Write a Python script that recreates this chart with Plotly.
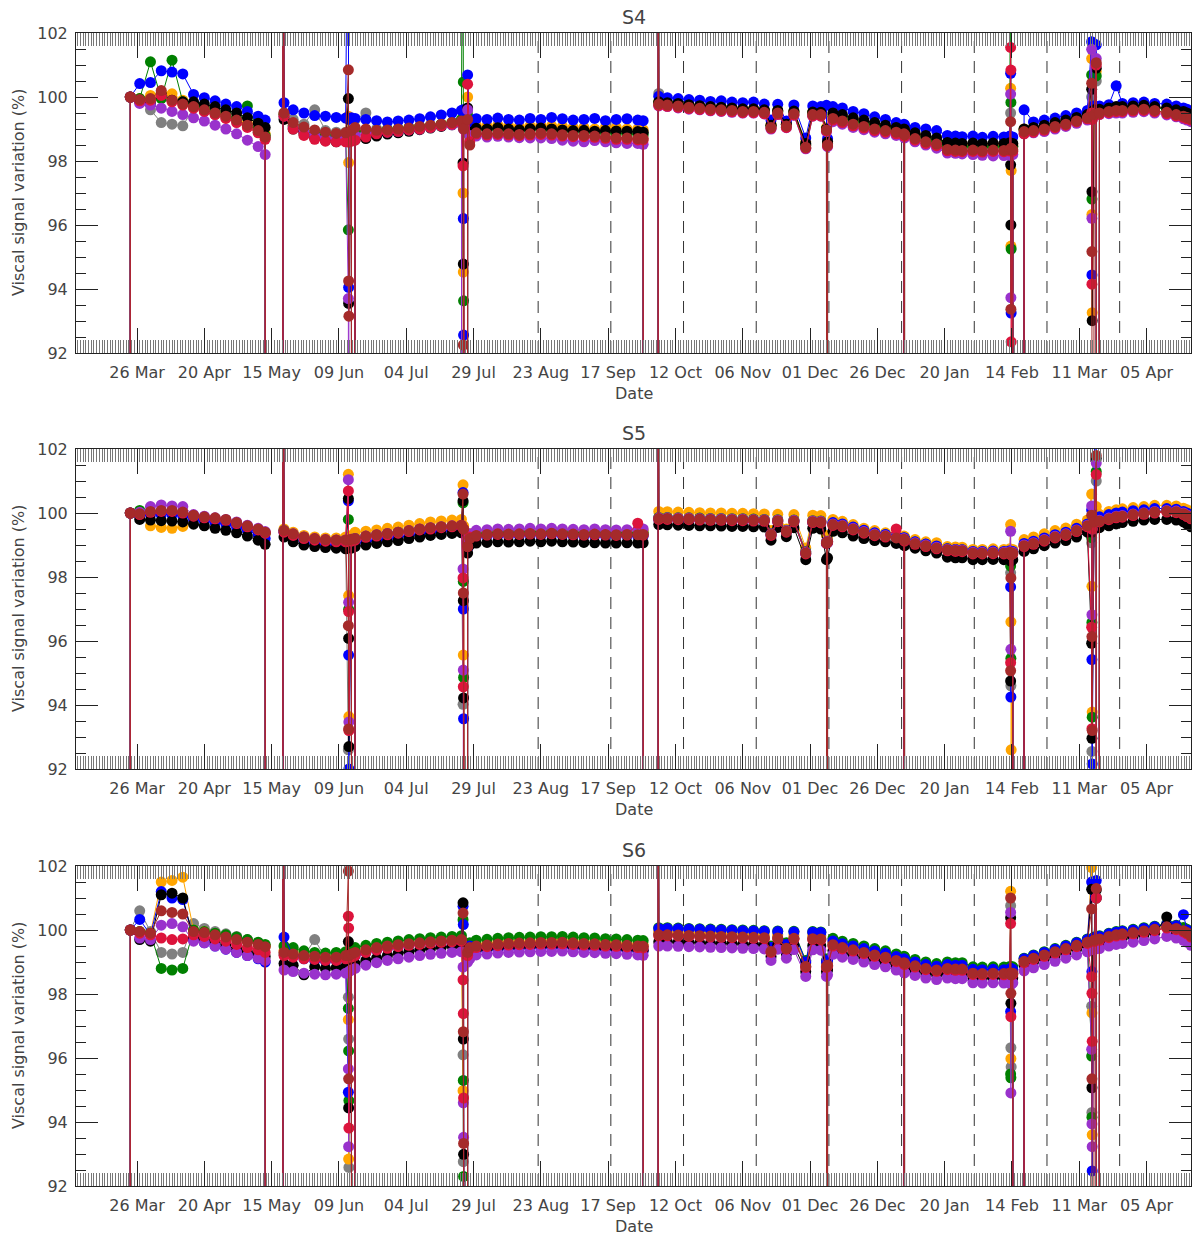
import pandas as pd
import plotly.graph_objects as go

# Days elapsed since 2016-03-26 for every VISCAL sample (0 = invalid low, 110 = invalid high)
START = "2016-03-26"
DAYS = (
    [-2.7, -2.5, 1, 5, 9, 13, 17, 21, 25, 29, 33, 37, 41, 45, 47.6, 47.9]
    + [54.1, 54.2]
    + [54.6, 58, 62, 66, 70, 74, 77.5, 78.5, 78.6, 78.7, 79.6, 80.5, 81, 85, 89, 93, 97,
       101, 105, 109, 113, 117, 120.5, 121.1, 121.2, 121.3, 122.6, 122.8, 123.6]
    + [126, 130, 134, 138, 142, 146, 150, 154, 158, 162, 166, 170, 174, 178, 182, 186, 188, 188.3]
    + [193.5, 193.6, 193.8, 197, 201, 205, 209, 213, 217, 221, 225, 229, 233, 235.5, 238,
       241.2, 244, 248.4, 251, 254, 256.1, 256.3, 256.5]
    + [258.5, 262, 266, 270, 274, 278, 282, 284.9, 285.0, 285.1, 289, 293, 297, 301, 304,
       306.5, 310.5, 314, 318, 322, 324.2, 324.5, 324.6, 324.7, 325.3, 325.5]
    + [329.3, 329.5, 333, 337, 341, 345, 349, 353, 354.6, 354.7, 354.8, 355.5, 356.3, 356.5,
       357.5, 361, 363.7, 366, 370, 374, 378, 382.5, 386, 388.7, 390, 391.5]
)

# Start of each 27-day cycle (days since 2016-03-26)
CYCLE_DAYS = [149, 176, 203, 230, 257, 284, 311, 338, 365]

# ---------------- S4 ----------------
S4_GRAY = (
    [0, 100.0, 99.85, 99.6, 99.2, 99.15, 99.1, 99.65, 99.55, 99.45, 99.35, 99.22, 99.08, 98.9, 98.72, 0]
    + [0, 110]
    + [99.5, 99.3, 99.15, 99.6, 98.95, 98.9, 98.9, 98.9, 98.9, 98.9, 98.95, 0, 99.3, 99.5, 99.0, 99.0, 99.0,
       99.05, 99.08, 99.12, 99.15, 99.2, 99.25, 99.2, 99.2, 99.2, 0, 99.5, 98.8]
    + [99.0, 98.98, 99.02, 98.98, 98.96, 98.99, 99.0, 98.98, 98.95, 98.93, 98.94, 98.91, 98.93, 98.92, 98.91, 98.9, 98.88, 0]
    + [0, 110, 100.11, 99.8, 99.77, 99.73, 99.7, 99.67, 99.65, 99.63, 99.6, 99.6, 99.57, 99.1, 99.55, 99.14,
       99.53, 98.5, 99.5, 99.5, 99.0, 0, 98.55]
    + [99.4, 99.35, 99.25, 99.18, 99.1, 99.03, 98.97, 98.93, 0, 98.9, 98.8, 98.7, 98.62, 98.48, 98.45, 98.44,
       98.45, 98.43, 98.45, 98.44, 98.46, 99.5, 98.5, 98.5, 98.45, 0]
    + [0, 98.98, 99.0, 99.06, 99.14, 99.22, 99.3, 99.4, 100.0, 99.4, 99.4, 99.52, 100.5, 0, 99.58, 99.62,
       99.64, 99.65, 99.67, 99.7, 99.66, 99.62, 99.55, 99.5, 99.45, 99.4]
)
S4_ORANGE = (
    [0, 100.0, 99.95, 100.05, 100.15, 100.1, 99.9, 99.75, 99.65, 99.55, 99.45, 99.32, 99.18, 99.0, 98.85, 0]
    + [0, 110]
    + [99.45, 99.1, 98.95, 98.85, 98.8, 98.75, 98.78, 99.4, 97.95, 98.8, 98.85, 0, 98.95, 98.95, 98.95, 98.98,
       99.0, 99.03, 99.07, 99.1, 99.15, 99.2, 99.25, 97.0, 94.53, 99.3, 0, 100.0, 98.8]
    + [99.12, 99.1, 99.12, 99.1, 99.08, 99.1, 99.12, 99.1, 99.08, 99.05, 99.05, 99.0, 99.05, 99.05, 99.0, 99.0, 98.98, 0]
    + [0, 110, 99.85, 99.82, 99.8, 99.76, 99.73, 99.7, 99.68, 99.66, 99.63, 99.63, 99.6, 99.15, 99.58, 99.18,
       99.56, 98.6, 99.53, 99.52, 99.05, 0, 98.62]
    + [99.45, 99.4, 99.3, 99.22, 99.15, 99.08, 99.02, 98.98, 0, 98.95, 98.85, 98.76, 98.68, 98.55, 98.52, 98.5,
       98.52, 98.5, 98.52, 98.5, 98.52, 100.27, 95.34, 97.7, 98.5, 0]
    + [0, 99.0, 99.02, 99.1, 99.18, 99.25, 99.33, 99.42, 101.2, 96.33, 93.26, 99.55, 100.8, 0, 99.6, 99.64,
       99.66, 99.68, 99.7, 99.72, 99.68, 99.64, 99.58, 99.52, 99.48, 99.42]
)
S4_GREEN = (
    [0, 100.0, 99.95, 101.1, 99.95, 101.15, 99.85, 99.75, 99.65, 99.55, 99.45, 99.35, 99.72, 99.0, 98.8, 0]
    + [0, 110]
    + [99.45, 99.1, 98.95, 98.85, 98.8, 98.75, 98.78, 95.85, 98.8, 98.85, 98.85, 0, 98.9, 98.95, 98.95, 98.98,
       99.0, 99.03, 99.07, 99.1, 99.15, 99.2, 99.3, 110, 100.47, 93.63, 0, 99.4, 98.8]
    + [99.0, 98.97, 99.0, 98.97, 98.95, 98.97, 99.0, 98.97, 98.94, 98.92, 98.92, 98.9, 98.88, 98.85, 98.85, 98.83, 98.82, 0]
    + [0, 110, 99.82, 99.8, 99.77, 99.73, 99.7, 99.67, 99.65, 99.63, 99.6, 99.6, 99.57, 99.1, 99.55, 99.14,
       99.53, 98.5, 99.5, 99.5, 99.0, 0, 98.55]
    + [99.4, 99.35, 99.25, 99.18, 99.1, 99.03, 98.97, 98.93, 0, 98.9, 98.8, 98.7, 98.62, 98.48, 98.45, 98.44,
       98.45, 98.43, 98.45, 98.44, 98.46, 110, 99.83, 95.25, 98.45, 0]
    + [0, 98.98, 99.0, 99.06, 99.14, 99.22, 99.3, 99.4, 100.69, 96.81, 99.5, 99.52, 100.66, 0, 99.58, 99.62,
       99.64, 99.65, 99.67, 99.7, 99.66, 99.62, 99.55, 99.5, 99.45, 99.4]
)
S4_BLUE = (
    [0, 100.0, 100.42, 100.45, 100.82, 100.78, 100.72, 100.08, 99.98, 99.88, 99.78, 99.7, 99.55, 99.4, 99.28, 0]
    + [0, 110]
    + [99.82, 99.6, 99.5, 99.42, 99.4, 99.36, 99.34, 110, 94.05, 99.3, 99.35, 0, 99.33, 99.3, 99.26, 99.22,
       99.25, 99.28, 99.32, 99.38, 99.44, 99.5, 99.58, 99.6, 96.2, 92.56, 0, 100.69, 99.1]
    + [99.32, 99.3, 99.34, 99.3, 99.28, 99.33, 99.3, 99.36, 99.32, 99.28, 99.3, 99.33, 99.26, 99.3, 99.32, 99.28, 99.26, 0]
    + [0, 110, 100.02, 99.98, 99.95, 99.92, 99.9, 99.86, 99.88, 99.84, 99.82, 99.84, 99.78, 99.28, 99.77, 99.25,
       99.75, 98.72, 99.72, 99.7, 99.74, 0, 98.7]
    + [99.7, 99.66, 99.55, 99.48, 99.38, 99.3, 99.2, 99.15, 0, 99.12, 99.05, 99.0, 98.95, 98.8, 98.78, 98.76,
       98.78, 98.74, 98.77, 98.75, 98.78, 100.74, 98.19, 93.25, 98.75, 0]
    + [0, 99.6, 99.22, 99.28, 99.34, 99.42, 99.5, 99.58, 101.73, 94.44, 99.7, 99.72, 101.63, 0, 99.72, 99.76,
       100.35, 99.8, 99.82, 99.84, 99.8, 99.78, 99.72, 99.66, 99.62, 99.55]
)
S4_BLACK = (
    [0, 100.0, 99.85, 99.8, 100.1, 99.9, 99.85, 99.85, 99.78, 99.7, 99.6, 99.5, 99.35, 99.18, 99.05, 0]
    + [0, 110]
    + [99.3, 99.0, 98.85, 98.72, 98.64, 98.6, 98.62, 99.95, 93.55, 98.6, 98.65, 0, 98.66, 98.7, 98.78, 98.84,
       98.88, 98.93, 98.98, 99.03, 99.08, 99.13, 99.18, 97.94, 94.78, 99.2, 0, 99.66, 98.9]
    + [99.02, 99.0, 99.04, 99.0, 98.98, 99.01, 99.03, 99.0, 98.97, 98.95, 98.96, 98.93, 98.95, 98.94, 98.93, 98.92, 98.9, 0]
    + [0, 110, 99.85, 99.82, 99.8, 99.76, 99.73, 99.7, 99.68, 99.66, 99.63, 99.63, 99.6, 99.12, 99.58, 99.15,
       99.56, 98.55, 99.53, 99.52, 99.0, 0, 98.6]
    + [99.5, 99.45, 99.35, 99.28, 99.2, 99.12, 99.05, 99.0, 0, 98.98, 98.88, 98.8, 98.72, 98.58, 98.56, 98.55,
       98.56, 98.54, 98.56, 98.55, 98.57, 97.88, 96.0, 98.5, 98.55, 0]
    + [0, 99.0, 99.05, 99.12, 99.2, 99.28, 99.36, 99.45, 100.24, 97.04, 93.01, 99.6, 100.9, 0, 99.62, 99.66,
       99.7, 99.7, 99.72, 99.74, 99.7, 99.66, 99.6, 99.55, 99.5, 99.45]
)
S4_PURPLE = (
    [0, 100.0, 99.8, 99.75, 99.65, 99.55, 99.45, 99.35, 99.25, 99.12, 99.0, 98.85, 98.65, 98.45, 98.2, 0]
    + [0, 110]
    + [99.4, 99.05, 98.9, 98.8, 98.72, 98.68, 98.7, 93.7, 0, 98.7, 98.75, 0, 98.8, 98.85, 98.88, 98.9,
       98.93, 98.97, 99.0, 99.05, 99.1, 99.13, 99.18, 0, 99.0, 99.1, 0, 99.6, 98.8]
    + [98.78, 98.75, 98.77, 98.75, 98.73, 98.72, 98.72, 98.7, 98.65, 98.62, 98.6, 98.64, 98.6, 98.57, 98.55, 98.55, 98.52, 0]
    + [0, 110, 99.72, 99.7, 99.66, 99.62, 99.6, 99.57, 99.55, 99.52, 99.5, 99.5, 99.47, 99.0, 99.45, 99.04,
       99.43, 98.38, 99.4, 99.4, 98.92, 0, 98.45]
    + [99.23, 99.15, 99.05, 98.98, 98.9, 98.85, 98.8, 98.75, 0, 98.72, 98.6, 98.5, 98.4, 98.25, 98.24, 98.22,
       98.2, 98.18, 98.16, 98.17, 98.18, 100.09, 93.73, 98.3, 98.2, 0]
    + [0, 98.85, 98.88, 98.92, 99.0, 99.08, 99.18, 99.28, 101.49, 96.21, 99.3, 99.4, 101.2, 0, 99.45, 99.48,
       99.5, 99.5, 99.52, 99.54, 99.5, 99.44, 99.38, 99.32, 99.28, 99.23]
)
S4_RED = (
    [0, 100.0, 99.88, 99.9, 100.05, 99.85, 99.75, 99.65, 99.55, 99.45, 99.33, 99.2, 99.05, 98.88, 98.68, 0]
    + [0, 110]
    + [99.4, 99.0, 98.8, 98.68, 98.62, 98.6, 98.6, 98.6, 98.6, 98.6, 98.62, 0, 98.65, 98.75, 98.85, 98.9,
       98.93, 98.97, 99.0, 99.05, 99.1, 99.15, 99.2, 97.85, 99.2, 99.2, 0, 100.4, 98.6]
    + [98.84, 98.81, 98.83, 98.81, 98.79, 98.81, 98.83, 98.81, 98.78, 98.76, 98.76, 98.74, 98.71, 98.68, 98.68, 98.66, 98.66, 0]
    + [0, 110, 99.74, 99.71, 99.68, 99.64, 99.61, 99.58, 99.56, 99.54, 99.51, 99.51, 99.48, 99.02, 99.46, 99.05,
       99.44, 98.4, 99.41, 99.41, 98.94, 0, 98.47]
    + [99.28, 99.2, 99.1, 99.03, 98.95, 98.9, 98.85, 98.8, 0, 98.77, 98.65, 98.55, 98.48, 98.32, 98.3, 98.29,
       98.3, 98.28, 98.3, 98.29, 98.31, 101.55, 100.84, 92.35, 98.3, 0]
    + [0, 98.85, 98.9, 98.96, 99.04, 99.12, 99.22, 99.32, 99.5, 94.15, 99.3, 99.42, 101.0, 0, 99.46, 99.51,
       99.54, 99.54, 99.56, 99.58, 99.54, 99.48, 99.41, 99.36, 99.32, 99.28]
)
S4_BROWN = (
    [0, 100.0, 99.92, 99.95, 100.2, 99.9, 99.78, 99.7, 99.6, 99.5, 99.4, 99.28, 99.12, 98.95, 98.75, 0]
    + [0, 110]
    + [99.5, 99.2, 99.06, 98.97, 98.9, 98.86, 98.88, 100.85, 94.25, 93.15, 98.95, 0, 99.05, 99.0, 98.96, 98.97,
       99.0, 99.03, 99.08, 99.12, 99.15, 99.2, 99.25, 99.2, 92.25, 99.0, 0, 99.3, 98.5]
    + [98.88, 98.85, 98.87, 98.85, 98.83, 98.85, 98.87, 98.85, 98.82, 98.8, 98.8, 98.78, 98.75, 98.72, 98.72, 98.7, 98.7, 0]
    + [0, 110, 99.78, 99.75, 99.72, 99.68, 99.65, 99.62, 99.6, 99.58, 99.55, 99.55, 99.52, 99.05, 99.5, 99.09,
       99.48, 98.43, 99.45, 99.45, 98.97, 0, 98.5]
    + [99.33, 99.25, 99.15, 99.08, 99.0, 98.95, 98.9, 98.85, 0, 98.82, 98.7, 98.6, 98.53, 98.36, 98.34, 98.33,
       98.34, 98.32, 98.34, 98.33, 98.35, 99.23, 93.37, 98.4, 98.35, 0]
    + [0, 98.92, 98.95, 99.0, 99.08, 99.15, 99.25, 99.35, 100.43, 95.17, 0, 99.45, 101.07, 0, 99.5, 99.55,
       99.58, 99.58, 99.6, 99.62, 99.58, 99.52, 99.45, 99.4, 99.36, 99.32]
)

# ---------------- S5 ----------------
S5_GRAY = (
    [0, 100.0, 99.95, 100.0, 100.02, 100.02, 99.98, 99.9, 99.85, 99.8, 99.75, 99.65, 99.55, 99.45, 99.35, 0]
    + [0, 110]
    + [99.45, 99.33, 99.24, 99.18, 99.15, 99.15, 99.15, 92.6, 99.1, 99.1, 99.17, 0, 99.2, 99.27, 99.31, 99.35,
       99.4, 99.44, 99.49, 99.53, 99.56, 99.58, 99.6, 94.02, 99.5, 99.5, 0, 99.0, 99.3]
    + [99.3, 99.33, 99.35, 99.34, 99.35, 99.36, 99.35, 99.37, 99.35, 99.34, 99.33, 99.34, 99.33, 99.32, 99.33, 99.32, 99.33, 0]
    + [0, 110, 99.83, 99.83, 99.82, 99.82, 99.81, 99.8, 99.8, 99.79, 99.79, 99.78, 99.77, 99.33, 99.76, 99.43,
       99.75, 98.75, 99.73, 99.72, 99.07, 0, 99.1]
    + [99.64, 99.6, 99.5, 99.4, 99.32, 99.28, 99.22, 99.18, 0, 99.15, 99.05, 98.98, 98.91, 98.85, 98.83, 98.82,
       98.75, 98.75, 98.76, 98.75, 98.77, 98.13, 94.6, 98.7, 98.75, 0]
    + [0, 98.98, 99.05, 99.15, 99.25, 99.33, 99.45, 99.6, 99.07, 92.55, 99.5, 99.72, 101.0, 0, 99.75, 99.82,
       99.88, 99.9, 99.95, 99.99, 100.03, 100.06, 100.04, 99.98, 99.92, 99.85]
)
S5_ORANGE = (
    [0, 100.0, 99.98, 99.6, 99.55, 99.52, 99.58, 99.9, 99.85, 99.82, 99.75, 99.67, 99.58, 99.48, 99.38, 0]
    + [0, 110]
    + [99.5, 99.4, 99.3, 99.25, 99.22, 99.22, 99.25, 101.21, 97.42, 93.64, 99.3, 0, 99.4, 99.43, 99.47, 99.52,
       99.56, 99.62, 99.67, 99.72, 99.75, 99.78, 99.8, 100.88, 95.56, 99.6, 0, 99.1, 99.35]
    + [99.43, 99.45, 99.47, 99.46, 99.47, 99.48, 99.47, 99.49, 99.47, 99.46, 99.45, 99.46, 99.45, 99.44, 99.45, 99.44, 99.45, 0]
    + [0, 110, 100.05, 100.04, 100.03, 100.02, 100.01, 100.0, 100.0, 99.99, 99.99, 99.98, 99.97, 99.45, 99.96, 99.5,
       99.95, 98.91, 99.93, 99.92, 99.3, 0, 99.2]
    + [99.8, 99.74, 99.64, 99.52, 99.45, 99.38, 99.32, 99.28, 0, 99.25, 99.17, 99.1, 99.07, 98.95, 98.94, 98.93,
       98.86, 98.86, 98.88, 98.86, 98.88, 99.64, 96.6, 92.6, 98.86, 0]
    + [0, 99.17, 99.25, 99.35, 99.45, 99.53, 99.65, 99.78, 100.59, 97.71, 93.78, 99.9, 100.2, 0, 99.96, 100.05,
       100.1, 100.13, 100.17, 100.2, 100.24, 100.24, 100.22, 100.15, 100.1, 100.06]
)
S5_GREEN = (
    [0, 100.0, 100.08, 100.02, 100.05, 100.05, 100.0, 99.9, 99.85, 99.8, 99.75, 99.67, 99.57, 99.47, 99.37, 0]
    + [0, 110]
    + [99.45, 99.33, 99.24, 99.18, 99.15, 99.15, 99.15, 99.8, 96.99, 99.1, 99.17, 0, 99.2, 99.27, 99.31, 99.35,
       99.4, 99.44, 99.49, 99.53, 99.56, 99.58, 99.6, 100.32, 97.86, 94.86, 0, 99.1, 99.3]
    + [99.35, 99.38, 99.4, 99.39, 99.4, 99.41, 99.4, 99.42, 99.4, 99.39, 99.38, 99.39, 99.38, 99.37, 99.38, 99.37, 99.38, 0]
    + [0, 110, 99.86, 99.86, 99.85, 99.85, 99.84, 99.83, 99.83, 99.82, 99.82, 99.81, 99.8, 99.36, 99.79, 99.46,
       99.78, 98.8, 99.76, 99.75, 99.1, 0, 99.12]
    + [99.68, 99.64, 99.54, 99.44, 99.36, 99.32, 99.26, 99.22, 0, 99.19, 99.09, 99.02, 98.95, 98.88, 98.86, 98.85,
       98.78, 98.78, 98.79, 98.78, 98.8, 98.34, 95.46, 98.7, 98.78, 0]
    + [0, 99.0, 99.08, 99.18, 99.28, 99.36, 99.48, 99.63, 99.23, 96.58, 93.62, 99.75, 101.3, 0, 99.78, 99.85,
       99.9, 99.93, 99.97, 100.01, 100.05, 100.08, 100.06, 100.0, 99.94, 99.87]
)
S5_BLUE = (
    [0, 100.0, 99.9, 99.95, 99.95, 99.95, 99.9, 99.8, 99.75, 99.7, 99.65, 99.55, 99.45, 99.33, 99.2, 0]
    + [0, 110]
    + [99.4, 99.2, 99.1, 99.03, 99.0, 98.98, 98.98, 100.38, 95.56, 92.0, 99.0, 0, 99.05, 99.1, 99.15, 99.2,
       99.25, 99.3, 99.35, 99.4, 99.43, 99.46, 99.5, 100.64, 97.0, 93.57, 0, 98.9, 99.2]
    + [99.25, 99.28, 99.3, 99.29, 99.3, 99.31, 99.3, 99.32, 99.3, 99.29, 99.28, 99.29, 99.28, 99.27, 99.28, 99.27, 99.28, 0]
    + [0, 110, 99.8, 99.8, 99.79, 99.79, 99.78, 99.77, 99.77, 99.76, 99.76, 99.75, 99.74, 99.3, 99.73, 99.4,
       99.72, 98.72, 99.7, 99.69, 99.05, 0, 99.08]
    + [99.7, 99.66, 99.56, 99.46, 99.38, 99.33, 99.27, 99.23, 0, 99.2, 99.1, 99.03, 98.97, 98.88, 98.86, 98.85,
       98.8, 98.8, 98.81, 98.8, 98.82, 97.69, 94.25, 98.7, 98.8, 0]
    + [0, 99.05, 99.12, 99.22, 99.32, 99.4, 99.52, 99.66, 100.09, 95.42, 92.16, 99.85, 110, 0, 99.88, 99.95,
       100.0, 100.03, 100.07, 100.1, 100.14, 100.14, 100.12, 100.05, 100.0, 99.95]
)
S5_BLACK = (
    [0, 100.0, 99.8, 99.78, 99.76, 99.75, 99.72, 99.65, 99.6, 99.52, 99.46, 99.38, 99.28, 99.15, 99.02, 0]
    + [0, 110]
    + [99.25, 99.1, 99.0, 98.95, 98.92, 98.9, 98.88, 100.45, 96.08, 92.7, 98.9, 0, 98.95, 99.0, 99.05, 99.1,
       99.14, 99.2, 99.25, 99.3, 99.33, 99.36, 99.38, 100.38, 97.26, 94.22, 0, 98.75, 99.0]
    + [99.06, 99.08, 99.1, 99.09, 99.1, 99.12, 99.1, 99.12, 99.1, 99.09, 99.08, 99.07, 99.06, 99.06, 99.07, 99.06, 99.07, 0]
    + [0, 110, 99.64, 99.63, 99.62, 99.61, 99.6, 99.6, 99.59, 99.58, 99.58, 99.57, 99.56, 99.15, 99.55, 99.26,
       99.54, 98.54, 99.52, 99.5, 98.54, 0, 98.6]
    + [99.43, 99.38, 99.28, 99.2, 99.14, 99.1, 99.05, 99.0, 0, 98.98, 98.9, 98.82, 98.75, 98.62, 98.6, 98.6,
       98.54, 98.54, 98.55, 98.54, 98.55, 94.75, 98.5, 98.5, 98.54, 0]
    + [0, 98.8, 98.88, 98.98, 99.06, 99.14, 99.25, 99.4, 95.93, 92.96, 99.4, 99.52, 101.7, 0, 99.54, 99.6,
       99.66, 99.7, 99.74, 99.78, 99.8, 99.8, 99.78, 99.72, 99.65, 99.57]
)
S5_PURPLE = (
    [0, 100.0, 100.02, 100.2, 100.25, 100.22, 100.2, 99.95, 99.9, 99.85, 99.8, 99.72, 99.62, 99.52, 99.42, 0]
    + [0, 110]
    + [99.45, 99.35, 99.25, 99.2, 99.17, 99.16, 99.16, 101.04, 97.21, 93.47, 99.18, 0, 99.2, 99.28, 99.32, 99.36,
       99.4, 99.45, 99.5, 99.54, 99.57, 99.6, 99.62, 98.25, 95.09, 0, 0, 99.2, 99.35]
    + [99.46, 99.48, 99.5, 99.49, 99.5, 99.52, 99.5, 99.52, 99.5, 99.49, 99.48, 99.5, 99.48, 99.47, 99.48, 99.48, 99.5, 0]
    + [0, 110, 99.85, 99.85, 99.84, 99.84, 99.83, 99.82, 99.82, 99.81, 99.81, 99.8, 99.79, 99.35, 99.78, 99.45,
       99.77, 98.78, 99.75, 99.74, 99.1, 0, 99.12]
    + [99.66, 99.62, 99.52, 99.42, 99.34, 99.3, 99.24, 99.2, 0, 99.17, 99.07, 99.0, 98.93, 98.87, 98.85, 98.84,
       98.77, 98.77, 98.78, 98.77, 98.79, 99.43, 95.74, 98.7, 98.77, 0]
    + [0, 99.0, 99.07, 99.17, 99.27, 99.35, 99.47, 99.62, 100.22, 96.82, 99.5, 99.74, 101.56, 0, 99.77, 99.84,
       99.9, 99.92, 99.97, 100.01, 100.05, 100.08, 100.06, 100.0, 99.94, 99.87]
)
S5_RED = (
    [0, 100.0, 99.95, 100.02, 100.05, 100.05, 100.0, 99.9, 99.85, 99.82, 99.77, 99.67, 99.57, 99.47, 99.37, 0]
    + [0, 110]
    + [99.4, 99.3, 99.2, 99.15, 99.12, 99.1, 99.1, 100.69, 96.92, 93.2, 99.12, 0, 99.15, 99.24, 99.28, 99.32,
       99.37, 99.42, 99.47, 99.5, 99.54, 99.57, 99.59, 97.97, 94.57, 99.5, 0, 98.95, 99.25]
    + [99.28, 99.31, 99.33, 99.32, 99.33, 99.34, 99.33, 99.35, 99.33, 99.32, 99.31, 99.32, 99.31, 99.3, 99.31, 99.68, 99.31, 0]
    + [0, 110, 99.8, 99.8, 99.79, 99.79, 99.78, 99.77, 99.77, 99.76, 99.76, 99.75, 99.74, 99.3, 99.73, 99.4,
       99.72, 98.72, 99.7, 99.69, 99.05, 0, 99.08]
    + [99.61, 99.57, 99.47, 99.37, 99.29, 99.25, 99.5, 99.15, 0, 99.12, 99.02, 98.95, 98.88, 98.82, 98.8, 98.79,
       98.72, 98.72, 98.73, 98.72, 98.74, 95.32, 98.7, 98.7, 98.72, 0]
    + [0, 98.95, 99.02, 99.12, 99.22, 99.3, 99.42, 99.57, 96.43, 93.26, 99.5, 99.7, 101.2, 0, 99.72, 99.79,
       99.85, 99.87, 99.92, 99.96, 100.0, 100.03, 100.01, 99.95, 99.89, 99.82]
)
S5_BROWN = (
    [0, 100.0, 99.98, 100.05, 100.08, 100.08, 100.03, 99.93, 99.88, 99.85, 99.8, 99.7, 99.6, 99.5, 99.4, 0]
    + [0, 110]
    + [99.45, 99.35, 99.25, 99.2, 99.17, 99.16, 99.16, 96.48, 93.25, 99.16, 99.18, 0, 99.2, 99.28, 99.32, 99.36,
       99.4, 99.45, 99.5, 99.54, 99.57, 99.6, 99.62, 100.59, 97.5, 99.5, 0, 98.96, 99.2]
    + [99.3, 99.33, 99.35, 99.34, 99.35, 99.36, 99.35, 99.37, 99.35, 99.34, 99.33, 99.34, 99.33, 99.32, 99.33, 99.32, 99.33, 0]
    + [0, 110, 99.83, 99.83, 99.82, 99.82, 99.81, 99.8, 99.8, 99.79, 99.79, 99.78, 99.77, 99.33, 99.76, 99.43,
       99.75, 98.75, 99.73, 99.72, 99.07, 0, 99.1]
    + [99.64, 99.6, 99.5, 99.4, 99.32, 99.28, 99.22, 99.18, 0, 99.15, 99.05, 98.98, 98.91, 98.85, 98.83, 98.82,
       98.75, 98.75, 98.76, 98.75, 98.77, 95.07, 97.97, 98.7, 98.75, 0]
    + [0, 98.98, 99.05, 99.15, 99.25, 99.33, 99.45, 99.6, 99.93, 96.14, 93.2, 99.72, 101.8, 0, 99.75, 99.82,
       99.88, 99.9, 99.95, 99.99, 100.03, 100.06, 100.04, 99.98, 99.92, 99.85]
)

# ---------------- S6 ----------------
S6_GRAY = (
    [0, 100.0, 100.6, 99.95, 99.3, 99.25, 99.3, 100.2, 100.05, 99.95, 99.88, 99.8, 99.7, 99.6, 99.5, 0]
    + [0, 110]
    + [99.25, 99.2, 99.18, 99.7, 99.12, 99.12, 99.15, 97.9, 96.59, 92.58, 99.2, 0, 99.25, 99.35, 99.42, 99.48,
       99.52, 99.55, 99.58, 99.61, 99.64, 99.66, 99.68, 96.1, 92.76, 99.5, 0, 99.3, 99.45]
    + [99.5, 99.53, 99.56, 99.58, 99.59, 99.6, 99.61, 99.61, 99.62, 99.6, 99.58, 99.57, 99.55, 99.54, 99.52, 99.5, 99.49, 0]
    + [0, 110, 99.9, 99.85, 99.84, 99.83, 99.82, 99.81, 99.8, 99.79, 99.78, 99.77, 99.76, 99.33, 99.75, 99.43,
       99.74, 98.86, 99.73, 99.72, 98.86, 0, 98.9]
    + [99.54, 99.45, 99.38, 99.3, 99.22, 99.15, 99.05, 98.98, 0, 98.96, 98.88, 98.8, 98.75, 98.8, 98.78, 98.78,
       98.65, 98.64, 98.65, 98.64, 98.66, 100.76, 96.32, 95.72, 98.65, 0]
    + [0, 99.02, 99.12, 99.22, 99.32, 99.42, 99.52, 99.62, 97.62, 94.3, 99.5, 99.68, 101.0, 0, 99.72, 99.8,
       99.85, 99.88, 99.92, 99.97, 100.02, 100.1, 100.05, 99.98, 99.92, 99.82]
)
S6_ORANGE = (
    [0, 100.0, 99.95, 99.9, 101.5, 101.55, 101.65, 100.0, 99.95, 99.88, 99.8, 99.72, 99.65, 99.57, 99.5, 0]
    + [0, 110]
    + [99.35, 99.3, 99.22, 99.2, 99.17, 99.17, 99.2, 97.2, 92.84, 99.2, 99.25, 0, 99.3, 99.38, 99.45, 99.5,
       99.55, 99.58, 99.61, 99.64, 99.67, 99.69, 99.71, 94.98, 99.6, 99.6, 0, 99.3, 99.45]
    + [99.55, 99.58, 99.61, 99.63, 99.64, 99.65, 99.66, 99.66, 99.67, 99.65, 99.63, 99.62, 99.6, 99.59, 99.57, 99.55, 99.54, 0]
    + [0, 110, 99.95, 99.95, 99.94, 99.93, 99.92, 99.91, 99.9, 99.89, 99.88, 99.87, 99.86, 99.4, 99.85, 99.5,
       99.84, 98.95, 99.83, 99.82, 98.95, 0, 99.0]
    + [99.62, 99.53, 99.46, 99.38, 99.3, 99.23, 99.13, 99.06, 0, 99.04, 98.96, 98.88, 98.83, 98.88, 98.86, 98.86,
       98.73, 98.72, 98.73, 98.72, 98.74, 101.21, 95.98, 98.7, 98.73, 0]
    + [0, 99.07, 99.17, 99.27, 99.37, 99.47, 99.57, 99.67, 101.95, 97.41, 93.6, 99.73, 101.0, 0, 99.77, 99.85,
       99.9, 99.93, 99.97, 100.02, 100.07, 100.15, 100.1, 100.03, 99.97, 99.87]
)
S6_GREEN = (
    [0, 100.0, 99.95, 99.9, 98.8, 98.75, 98.8, 100.0, 99.95, 99.9, 99.85, 99.78, 99.7, 99.62, 99.55, 0]
    + [0, 110]
    + [99.5, 99.45, 99.35, 99.3, 99.28, 99.3, 99.32, 97.55, 96.22, 94.67, 99.35, 0, 99.45, 99.52, 99.58, 99.62,
       99.66, 99.7, 99.73, 99.76, 99.78, 99.8, 99.82, 100.32, 95.3, 92.3, 0, 99.5, 99.6]
    + [99.68, 99.71, 99.74, 99.76, 99.77, 99.78, 99.79, 99.79, 99.8, 99.78, 99.76, 99.75, 99.73, 99.72, 99.7, 99.68, 99.67, 0]
    + [0, 110, 100.07, 100.07, 100.06, 100.05, 100.04, 100.03, 100.02, 100.01, 100.0, 99.99, 99.98, 99.5, 99.97, 99.6,
       99.96, 99.05, 99.95, 99.94, 99.05, 0, 99.1]
    + [99.74, 99.65, 99.58, 99.5, 99.42, 99.35, 99.25, 99.18, 0, 99.16, 99.08, 99.0, 98.95, 99.0, 98.98, 98.98,
       98.85, 98.84, 98.85, 98.84, 98.86, 95.5, 95.38, 98.85, 98.85, 0]
    + [0, 99.12, 99.22, 99.32, 99.42, 99.52, 99.62, 99.72, 96.06, 94.15, 99.6, 99.78, 101.0, 0, 99.82, 99.9,
       99.95, 99.98, 100.02, 100.07, 100.12, 100.2, 100.15, 100.08, 100.02, 99.92]
)
S6_BLUE = (
    [0, 100.0, 100.33, 99.85, 101.2, 101.0, 100.95, 99.7, 99.6, 99.5, 99.4, 99.3, 99.2, 99.1, 99.0, 0]
    + [0, 110]
    + [99.78, 99.2, 99.1, 99.05, 99.02, 99.05, 99.1, 94.93, 99.1, 99.1, 99.15, 0, 99.2, 99.3, 99.37, 99.43,
       99.48, 99.52, 99.56, 99.6, 99.63, 99.65, 99.67, 100.74, 100.17, 99.5, 0, 99.4, 99.5]
    + [99.35, 99.38, 99.41, 99.43, 99.44, 99.45, 99.46, 99.46, 99.47, 99.45, 99.43, 99.42, 99.4, 99.39, 99.37, 99.35, 99.34, 0]
    + [0, 110, 100.05, 100.05, 100.04, 100.03, 100.02, 100.01, 100.0, 99.99, 99.98, 99.97, 99.96, 99.45, 99.95, 99.55,
       99.94, 99.0, 99.93, 99.92, 99.0, 0, 99.05]
    + [99.66, 99.57, 99.5, 99.42, 99.34, 99.27, 99.17, 99.1, 0, 99.08, 99.0, 98.92, 98.87, 98.92, 98.9, 98.9,
       98.77, 98.76, 98.77, 98.76, 98.78, 97.45, 98.8, 98.8, 98.77, 0]
    + [0, 99.1, 99.2, 99.3, 99.4, 99.5, 99.6, 99.7, 101.5, 98.7, 92.47, 99.76, 101.55, 0, 99.8, 99.88,
       99.93, 99.96, 100.0, 100.05, 100.1, 100.18, 100.13, 100.48, 100.0, 99.9]
)
S6_BLACK = (
    [0, 100.0, 99.7, 99.65, 101.1, 101.15, 101.0, 99.75, 99.7, 99.62, 99.5, 99.4, 99.32, 99.25, 99.17, 0]
    + [0, 110]
    + [98.95, 98.9, 98.6, 98.85, 98.8, 98.82, 98.85, 99.64, 94.44, 98.9, 98.9, 0, 98.95, 99.05, 99.12, 99.2,
       99.27, 99.32, 99.37, 99.42, 99.46, 99.5, 99.52, 100.85, 96.59, 92.99, 0, 99.1, 99.3]
    + [99.38, 99.41, 99.44, 99.46, 99.47, 99.48, 99.49, 99.49, 99.5, 99.48, 99.46, 99.45, 99.43, 99.42, 99.4, 99.38, 99.37, 0]
    + [0, 110, 99.63, 99.63, 99.62, 99.61, 99.6, 99.59, 99.58, 99.57, 99.56, 99.55, 99.54, 99.17, 99.53, 99.25,
       99.52, 98.7, 99.51, 99.5, 98.7, 0, 98.75]
    + [99.35, 99.27, 99.2, 99.12, 99.05, 98.98, 98.88, 98.82, 0, 98.8, 98.72, 98.64, 98.6, 98.64, 98.62, 98.62,
       98.5, 98.49, 98.5, 98.49, 98.51, 100.38, 97.71, 98.4, 98.5, 0]
    + [0, 98.9, 99.0, 99.1, 99.2, 99.3, 99.4, 99.5, 101.27, 95.07, 99.4, 99.56, 101.25, 0, 99.6, 99.68,
       99.73, 99.76, 99.8, 99.85, 99.9, 100.41, 99.93, 99.86, 99.8, 99.7]
)
S6_PURPLE = (
    [0, 100.0, 99.75, 99.7, 100.15, 100.2, 100.1, 99.65, 99.6, 99.5, 99.4, 99.3, 99.2, 99.12, 99.05, 0]
    + [0, 110]
    + [98.75, 98.7, 98.65, 98.62, 98.6, 98.62, 98.65, 95.66, 93.23, 98.7, 98.75, 0, 98.8, 98.9, 98.98, 99.05,
       99.1, 99.15, 99.2, 99.24, 99.27, 99.3, 99.32, 98.84, 94.6, 93.52, 0, 99.0, 99.1]
    + [99.22, 99.25, 99.28, 99.3, 99.31, 99.32, 99.33, 99.33, 99.34, 99.32, 99.3, 99.29, 99.27, 99.26, 99.24, 99.22, 99.21, 0]
    + [0, 110, 99.5, 99.5, 99.49, 99.48, 99.47, 99.46, 99.45, 99.44, 99.43, 99.42, 99.41, 99.05, 99.4, 99.12,
       99.39, 98.55, 99.38, 99.37, 98.55, 0, 98.6]
    + [99.24, 99.15, 99.08, 99.0, 98.92, 98.85, 98.75, 98.68, 0, 98.66, 98.58, 98.5, 98.45, 98.5, 98.48, 98.48,
       98.35, 98.34, 98.35, 98.34, 98.36, 100.55, 94.91, 98.3, 98.35, 0]
    + [0, 98.72, 98.82, 98.92, 99.02, 99.12, 99.22, 99.32, 96.27, 93.94, 93.23, 99.38, 101.0, 0, 99.42, 99.5,
       99.55, 99.58, 99.62, 99.67, 99.72, 99.8, 99.75, 99.68, 99.62, 99.52]
)
S6_RED = (
    [0, 100.0, 99.9, 99.85, 99.75, 99.7, 99.72, 99.85, 99.8, 99.72, 99.65, 99.55, 99.45, 99.38, 99.3, 0]
    + [0, 110]
    + [99.2, 99.15, 99.1, 99.08, 99.05, 99.05, 99.1, 100.43, 100.06, 93.81, 99.15, 0, 99.2, 99.3, 99.37, 99.43,
       99.48, 99.52, 99.55, 99.58, 99.61, 99.63, 99.65, 98.44, 97.39, 94.75, 0, 99.2, 99.4]
    + [99.45, 99.48, 99.51, 99.53, 99.54, 99.55, 99.56, 99.56, 99.57, 99.55, 99.53, 99.52, 99.5, 99.49, 99.47, 99.45, 99.44, 0]
    + [0, 110, 99.82, 99.82, 99.81, 99.8, 99.79, 99.78, 99.77, 99.76, 99.75, 99.74, 99.73, 99.3, 99.72, 99.4,
       99.71, 98.83, 99.7, 99.69, 98.83, 0, 98.87]
    + [99.5, 99.41, 99.34, 99.26, 99.18, 99.11, 99.01, 98.94, 0, 98.92, 98.84, 98.76, 98.71, 98.76, 98.74, 98.74,
       98.61, 98.6, 98.61, 98.6, 98.62, 100.2, 97.29, 98.6, 98.61, 0]
    + [0, 98.98, 99.08, 99.18, 99.28, 99.38, 99.48, 99.58, 98.54, 98.02, 96.52, 99.64, 101.0, 0, 99.68, 99.76,
       99.81, 99.84, 99.88, 99.93, 99.98, 100.06, 100.01, 99.94, 99.88, 99.78]
)
S6_BROWN = (
    [0, 100.0, 99.95, 99.9, 100.6, 100.55, 100.5, 99.95, 99.92, 99.85, 99.78, 99.7, 99.62, 99.55, 99.48, 0]
    + [0, 110]
    + [99.3, 99.25, 99.2, 99.18, 99.15, 99.15, 99.2, 101.84, 95.35, 99.2, 99.25, 0, 99.3, 99.38, 99.45, 99.5,
       99.54, 99.57, 99.6, 99.63, 99.66, 99.68, 99.7, 100.53, 96.82, 93.33, 0, 99.3, 99.45]
    + [99.5, 99.53, 99.56, 99.58, 99.59, 99.6, 99.61, 99.61, 99.62, 99.6, 99.58, 99.57, 99.55, 99.54, 99.52, 99.5, 99.49, 0]
    + [0, 110, 99.85, 99.85, 99.84, 99.83, 99.82, 99.81, 99.8, 99.79, 99.78, 99.77, 99.76, 99.33, 99.75, 99.43,
       99.74, 98.86, 99.73, 99.72, 98.86, 0, 98.9]
    + [99.54, 99.45, 99.38, 99.3, 99.22, 99.15, 99.05, 98.98, 0, 98.96, 98.88, 98.8, 98.75, 98.8, 98.78, 98.78,
       98.65, 98.64, 98.65, 98.64, 98.66, 101.0, 98.02, 98.6, 98.65, 0]
    + [0, 99.02, 99.12, 99.22, 99.32, 99.42, 99.52, 99.62, 100.66, 95.35, 0, 99.68, 101.3, 0, 99.72, 99.8,
       99.85, 99.88, 99.92, 99.97, 100.02, 100.1, 100.05, 99.98, 99.92, 99.82]
)

# Drawing order (bottom to top) and colours
COLORS = [
    ("gray", "#808080"),
    ("orange", "#ffa500"),
    ("green", "#008000"),
    ("blue", "#0000ff"),
    ("black", "#000000"),
    ("purple", "#9932cc"),
    ("red", "#dc143c"),
    ("brown", "#a52a2a"),
]
PANELS = [
    ("S4", {"gray": S4_GRAY, "orange": S4_ORANGE, "green": S4_GREEN, "blue": S4_BLUE,
            "black": S4_BLACK, "purple": S4_PURPLE, "red": S4_RED, "brown": S4_BROWN}),
    ("S5", {"gray": S5_GRAY, "orange": S5_ORANGE, "green": S5_GREEN, "blue": S5_BLUE,
            "black": S5_BLACK, "purple": S5_PURPLE, "red": S5_RED, "brown": S5_BROWN}),
    ("S6", {"gray": S6_GRAY, "orange": S6_ORANGE, "green": S6_GREEN, "blue": S6_BLUE,
            "black": S6_BLACK, "purple": S6_PURPLE, "red": S6_RED, "brown": S6_BROWN}),
]

for pname, series in PANELS:
    for sname, vals in series.items():
        if len(vals) != len(DAYS):
            raise ValueError(f"{pname} {sname}: {len(vals)} values for {len(DAYS)} days")

t0 = pd.Timestamp(START)
dates = [t0 + pd.Timedelta(days=d) for d in DAYS]
cycle_dates = [t0 + pd.Timedelta(days=d) for d in CYCLE_DAYS]

# Page geometry (pixels)
W, H = 1196, 1237
PLOT_L, PLOT_R = 76, 1191
PANEL_BOX = [(33, 353), (449, 769), (866, 1186)]
X_RANGE = ["2016-03-03 08:00", "2017-04-21 12:00"]
FONT = "DejaVu Sans"
TXT = "#444444"
DAY_MS = 86400000

fig = go.Figure()
annotations = []
shapes = []
layout = dict(
    width=W, height=H, autosize=False, margin=dict(l=0, r=0, t=0, b=0, pad=0),
    paper_bgcolor="white", plot_bgcolor="white", showlegend=False,
    font=dict(family=FONT, size=16, color=TXT),
)

for i, ((pname, series), (top, bot)) in enumerate(zip(PANELS, PANEL_BOX)):
    n = "" if i == 0 else str(i + 1)
    xa, ya = "x" + n, "y" + n
    for sname, col in COLORS:
        fig.add_trace(go.Scatter(
            x=dates, y=series[sname], xaxis=xa, yaxis=ya,
            mode="lines+markers",
            line=dict(color=col, width=1),
            marker=dict(color=col, size=11, line=dict(width=0)),
            hoverinfo="skip",
        ))
    layout["xaxis" + n] = dict(
        domain=[PLOT_L / W, PLOT_R / W], anchor=ya, type="date", range=X_RANGE,
        tickmode="linear", tick0=START, dtick=25 * DAY_MS, tickformat="%d %b",
        ticks="inside", ticklen=25, tickwidth=1, tickcolor="#222222",
        showline=True, linecolor="#222222", linewidth=1, mirror="ticks",
        showgrid=False, zeroline=False, automargin=False,
        tickfont=dict(family=FONT, size=16, color=TXT), ticklabelstandoff=5,
        minor=dict(ticks="inside", ticklen=13, dtick=DAY_MS, tick0=START,
                   tickcolor="#777777", tickwidth=1, showgrid=False),
    )
    layout["yaxis" + n] = dict(
        domain=[1 - bot / H, 1 - top / H], anchor=xa, range=[92, 102],
        tickmode="linear", tick0=92, dtick=2,
        ticks="inside", ticklen=22, tickwidth=1, tickcolor="#222222",
        showline=True, linecolor="#222222", linewidth=1, mirror="ticks",
        showgrid=False, zeroline=False, automargin=False,
        tickfont=dict(family=FONT, size=16, color=TXT), ticklabelstandoff=4,
        minor=dict(ticks="inside", ticklen=10, dtick=0.5, tick0=92,
                   tickcolor="#222222", tickwidth=1, showgrid=False),
    )
    for cd in cycle_dates:
        shapes.append(dict(type="line", xref=xa, yref=ya + " domain",
                           x0=cd, x1=cd, y0=0, y1=1, layer="below",
                           line=dict(color="#333333", width=1, dash="12px,8px")))
    cx = (PLOT_L + PLOT_R) / 2 / W
    annotations.append(dict(text=pname, x=cx, y=1 - (top - 16) / H, xref="paper", yref="paper",
                            showarrow=False, xanchor="center", yanchor="middle",
                            font=dict(family=FONT, size=19, color=TXT)))
    annotations.append(dict(text="Date", x=cx, y=1 - (bot + 40) / H, xref="paper", yref="paper",
                            showarrow=False, xanchor="center", yanchor="middle",
                            font=dict(family=FONT, size=16, color=TXT)))
    annotations.append(dict(text="Viscal signal variation (%)", x=18 / W, y=1 - (top + bot) / 2 / H,
                            xref="paper", yref="paper", showarrow=False, textangle=-90,
                            xanchor="center", yanchor="middle",
                            font=dict(family=FONT, size=16, color=TXT)))

layout["annotations"] = annotations
layout["shapes"] = shapes
fig.update_layout(**layout)
# Fixed-size figure sitting flush with the page edges
fig.write_html(
    "out.html",
    config={"responsive": False},
    post_script="document.body.style.margin='0px';document.body.style.overflow='hidden';",
)
